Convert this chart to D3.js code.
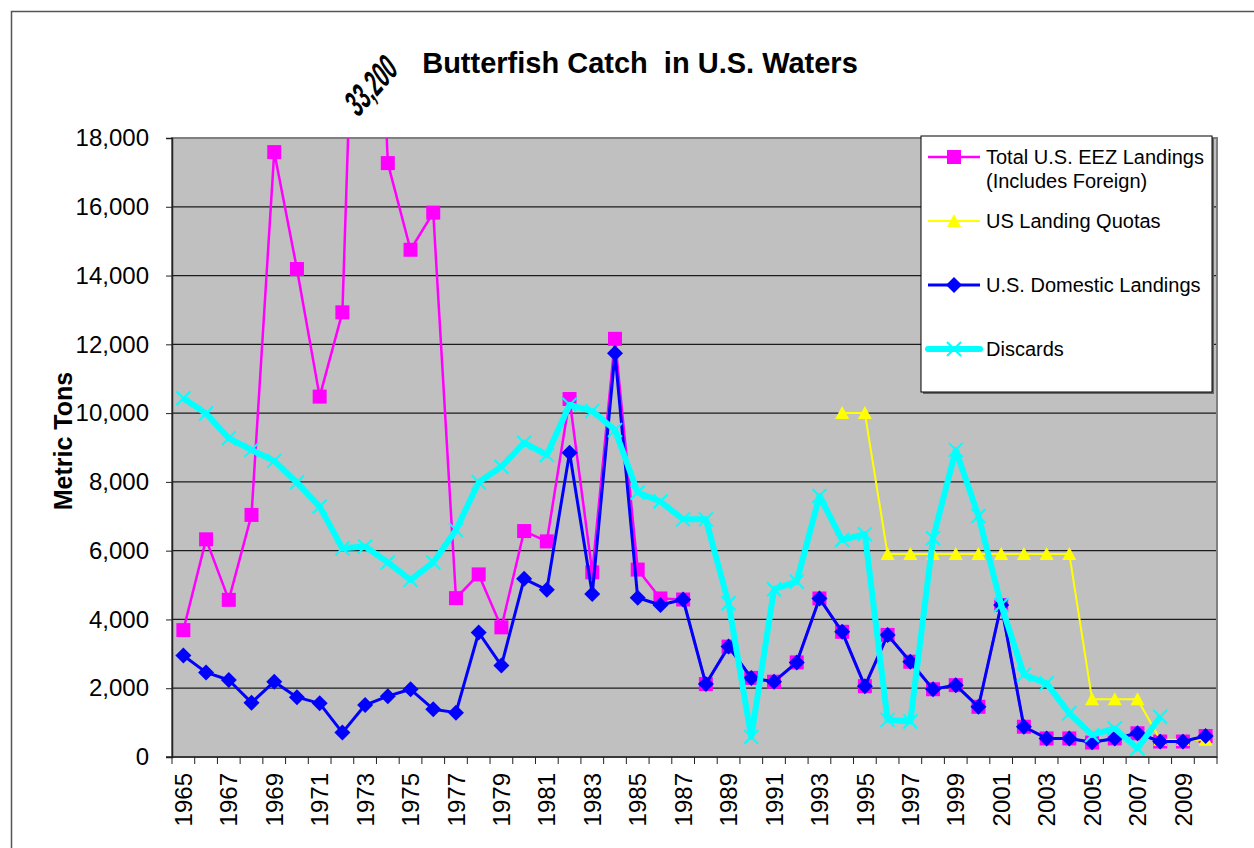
<!DOCTYPE html>
<html><head><meta charset="utf-8">
<script src="https://cdn.jsdelivr.net/npm/d3@7"></script>
<style>
body{margin:0;background:#fff}
svg{display:block}
text{font-family:"Liberation Sans",Arial,sans-serif;fill:#000}
</style>
</head><body>
<svg id="c" width="1254" height="848"></svg>
<script>
const years = [1965,1966,1967,1968,1969,1970,1971,1972,1973,1974,1975,1976,1977,1978,1979,1980,1981,1982,1983,1984,1985,1986,1987,1988,1989,1990,1991,1992,1993,1994,1995,1996,1997,1998,1999,2000,2001,2002,2003,2004,2005,2006,2007,2008,2009,2010];
const totalLandings = [3690,6330,4570,7040,17590,14190,10480,12930,33200,17270,14750,15830,4620,5310,3770,6570,6270,10410,5370,12160,5450,4610,4580,2120,3210,2300,2190,2750,4610,3640,2060,3550,2770,1970,2090,1460,4420,880,540,540,420,540,690,450,450,610];
const landingQuotas = [null,null,null,null,null,null,null,null,null,null,null,null,null,null,null,null,null,null,null,null,null,null,null,null,null,null,null,null,null,10000,10000,5900,5900,5900,5900,5900,5900,5900,5900,5900,1681,1681,1681,500,500,500];
const domesticLandings = [2950,2460,2240,1580,2190,1740,1560,710,1510,1770,1970,1390,1290,3620,2660,5180,4860,8850,4740,11740,4630,4420,4580,2120,3210,2300,2190,2750,4610,3640,2060,3550,2770,1970,2090,1460,4420,880,540,540,430,540,690,450,450,610];
const discards = [10430,9990,9270,8930,8610,7980,7280,6070,6120,5660,5150,5660,6600,7990,8440,9140,8780,10240,10060,9510,7690,7430,6910,6910,4470,580,4880,5100,7590,6310,6480,1080,1030,6360,8930,7010,4420,2390,2140,1270,640,830,250,1170,null,null];
const yTicks = [0,2000,4000,6000,8000,10000,12000,14000,16000,18000];
const xLabelYears = [1965,1967,1969,1971,1973,1975,1977,1979,1981,1983,1985,1987,1989,1991,1993,1995,1997,1999,2001,2003,2005,2007,2009];
const seriesNames = ["Total U.S. EEZ Landings","US Landing Quotas","U.S. Domestic Landings","Discards"];
const titleText = "Butterfish Catch  in U.S. Waters";
const offChartLabel = "33,200";
const yTitle = "Metric Tons";

const svg = d3.select("#c");
const L = 172, R = 1217, T = 138, B = 757;

// outer frame
svg.append("rect").attr("x",11.5).attr("y",11.5).attr("width",1300).attr("height",900)
  .attr("fill","#fff").attr("stroke","#555").attr("stroke-width",1.5);

const x = d3.scaleBand().domain(years).range([L,R]).padding(0);
const cx = d => x(d) + x.bandwidth()/2;
const y = d3.scaleLinear().domain([0,18000]).range([B,T]);

// plot area
svg.append("rect").attr("x",L).attr("y",T).attr("width",R-L).attr("height",B-T).attr("fill","#C0C0C0");

// gridlines
svg.append("g").selectAll("line").data(yTicks.slice(1)).join("line")
  .attr("x1",L).attr("x2",R).attr("y1",d=>y(d)).attr("y2",d=>y(d))
  .attr("stroke","#000").attr("stroke-width",1.2).attr("opacity",0.85);

svg.append("rect").attr("x",L).attr("y",T).attr("width",R-L).attr("height",B-T)
  .attr("fill","none").attr("stroke","#808080").attr("stroke-width",2);

// y axis
const yAxis = svg.append("g").attr("transform",`translate(${L},0)`)
  .call(d3.axisLeft(y).tickValues(yTicks).tickSize(6).tickPadding(17).tickFormat(d3.format(",")));
yAxis.select(".domain").attr("stroke","#222").attr("stroke-width",1.5);
yAxis.selectAll(".tick line").attr("stroke","#222");
yAxis.selectAll("text").attr("font-size",24).attr("font-family","Liberation Sans, Arial, sans-serif").attr("fill","#000");

// x axis
const xAxisG = svg.append("g");
xAxisG.append("line").attr("x1",L-6).attr("x2",R).attr("y1",B).attr("y2",B).attr("stroke","#222").attr("stroke-width",1.5);
const bounds = years.map(d=>x(d)).concat([R]);
xAxisG.selectAll("line.tk").data(bounds).join("line").attr("class","tk")
  .attr("x1",d=>d).attr("x2",d=>d).attr("y1",B).attr("y2",B+7).attr("stroke","#222").attr("stroke-width",1);
xAxisG.selectAll("text").data(xLabelYears).join("text")
  .attr("transform",d=>`translate(${cx(d)},${B+16}) rotate(-90)`)
  .attr("text-anchor","end").attr("dy","0.36em").attr("font-size",24).text(d=>d);

// clip
svg.append("clipPath").attr("id","clip").append("rect").attr("x",L).attr("y",T).attr("width",R-L).attr("height",B-T);
const plot = svg.append("g").attr("clip-path","url(#clip)");

const line = d3.line().defined(d=>d[1]!=null).x(d=>cx(d[0])).y(d=>y(d[1]));
const pairs = arr => years.map((yr,i)=>[yr,arr[i]]);

function drawSeries(arr, color, width, marker){
  const data = pairs(arr);
  plot.append("path").datum(data).attr("d",line).attr("fill","none")
    .attr("stroke",color).attr("stroke-width",width).attr("stroke-linejoin","round");
  const pts = data.filter(d=>d[1]!=null);
  const g = plot.append("g");
  pts.forEach(d=> marker(g, cx(d[0]), y(d[1])));
}
function square(g,px,py,c){ g.append("rect").attr("x",px-7).attr("y",py-7).attr("width",14).attr("height",14).attr("fill",c||"#FF00FF"); }
function triangle(g,px,py){ g.append("path").attr("d",`M${px},${py-7}L${px+7},${py+6}L${px-7},${py+6}Z`).attr("fill","#FFFF00"); }
function diamond(g,px,py){ g.append("path").attr("d",`M${px},${py-8}L${px+8},${py}L${px},${py+8}L${px-8},${py}Z`).attr("fill","#0000FF"); }
function cross(g,px,py){ g.append("path").attr("d",`M${px-7},${py-7}L${px+7},${py+7}M${px+7},${py-7}L${px-7},${py+7}`).attr("stroke","#00FFFF").attr("stroke-width",2); }

drawSeries(totalLandings,"#FF00FF",2.5,(g,a,b)=>square(g,a,b));
drawSeries(landingQuotas,"#FFFF00",2,triangle);
drawSeries(domesticLandings,"#0000FF",3,diamond);
drawSeries(discards,"#00FFFF",6,cross);

// legend
const lg = svg.append("g");
lg.append("rect").attr("x",923).attr("y",138).attr("width",291).attr("height",256).attr("fill","#666");
lg.append("rect").attr("x",921).attr("y",136).attr("width",291).attr("height",256).attr("fill","#fff").attr("stroke","#000").attr("stroke-width",1);
const legRows = [157,221,285,349];
const legColors = ["#FF00FF","#FFFF00","#0000FF","#00FFFF"];
const legWidths = [2.5,2,3,6];
const legMarks = [(g,a,b)=>square(g,a,b),triangle,diamond,cross];
legRows.forEach((ry,i)=>{
  lg.append("line").attr("x1",928).attr("x2",980).attr("y1",ry).attr("y2",ry).attr("stroke",legColors[i]).attr("stroke-width",legWidths[i]).attr("stroke-linecap", i===3?"round":"butt");
  legMarks[i](lg,954,ry);
  lg.append("text").attr("x",986).attr("y",ry).attr("dy","0.36em").attr("font-size",20).text(seriesNames[i]);
});
lg.append("text").attr("x",986).attr("y",181).attr("dy","0.36em").attr("font-size",20).text("(Includes Foreign)");

// title
svg.append("text").attr("x",640).attr("y",73).attr("text-anchor","middle").style("white-space","pre")
  .attr("font-size",29).attr("font-weight","bold").text(titleText);
// off-chart value label
svg.append("text").attr("transform","translate(371,85) rotate(-48) skewX(-12) scale(0.85,1.45)")
  .attr("text-anchor","middle").attr("dy","0.35em").attr("font-size",24).attr("font-weight","bold").text(offChartLabel);
// y title
svg.append("text").attr("transform","translate(63,441) rotate(-90)").attr("text-anchor","middle").attr("dy","0.36em")
  .attr("font-size",25).attr("font-weight","bold").text(yTitle);
</script>
</body></html>
